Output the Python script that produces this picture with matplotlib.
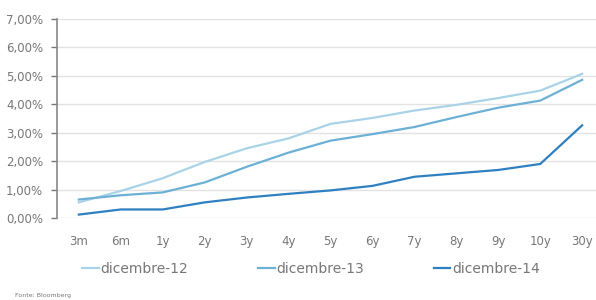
import matplotlib
matplotlib.use("Agg")
import matplotlib.pyplot as plt
from matplotlib.ticker import FuncFormatter

categories = ["3m", "6m", "1y", "2y", "3y", "4y", "5y", "6y", "7y", "8y", "9y", "10y", "30y"]
dic12 = [0.55, 0.95, 1.40, 1.97, 2.45, 2.80, 3.31, 3.52, 3.78, 3.98, 4.22, 4.48, 5.07]
dic13 = [0.65, 0.80, 0.90, 1.25, 1.80, 2.30, 2.72, 2.95, 3.20, 3.55, 3.88, 4.13, 4.86]
dic14 = [0.12, 0.30, 0.30, 0.55, 0.72, 0.85, 0.97, 1.13, 1.45, 1.57, 1.69, 1.90, 3.26]
series_names = ["dicembre-12", "dicembre-13", "dicembre-14"]
colors = ["#a9d3e6", "#6cb0d5", "#2f80c0"]

plt.rcParams['font.family'] = ['DejaVu Sans']
fig = plt.figure(figsize=(5.96, 3.0), dpi=100)
ax = fig.add_axes([57/596, 1-218/300, (596-57)/596, (218-19)/300])

x = list(range(len(categories)))
for vals, name, c in zip([dic12, dic13, dic14], series_names, colors):
    ax.plot(x, vals, color=c, lw=1.6, label=name)

ax.set_ylim(0, 7)
ax.set_xlim(-0.52, 12.33)
ax.set_yticks(range(0, 8))
ax.yaxis.set_major_formatter(FuncFormatter(lambda v, p: f"{v:.2f}%".replace(".", ",")))
ax.set_xticks(x)
ax.set_xticklabels(categories)
ax.grid(axis='y', color="#e2e2e2", lw=1.0)
ax.set_axisbelow(True)
for s in ["top", "right", "bottom"]:
    ax.spines[s].set_visible(False)
ax.spines["left"].set_color("#888888")
ax.spines["left"].set_linewidth(1.2)
ax.tick_params(axis='y', colors="#777777", labelsize=8.5, length=4, width=1, pad=6)
ax.tick_params(axis='x', colors="#777777", labelsize=8.5, length=0, pad=12)

leg = fig.legend(loc="center", bbox_to_anchor=(0.522, 1-269/300), ncol=3, frameon=False,
                 fontsize=10, handlelength=1.2, handletextpad=0.15, columnspacing=5.0)
for t in leg.get_texts():
    t.set_color("#777777")

fig.text(0.025, 1-296/300, "Fonte: Bloomberg", fontsize=4.5, color="#777777", va="center")

fig.savefig("out.png", dpi=100)
